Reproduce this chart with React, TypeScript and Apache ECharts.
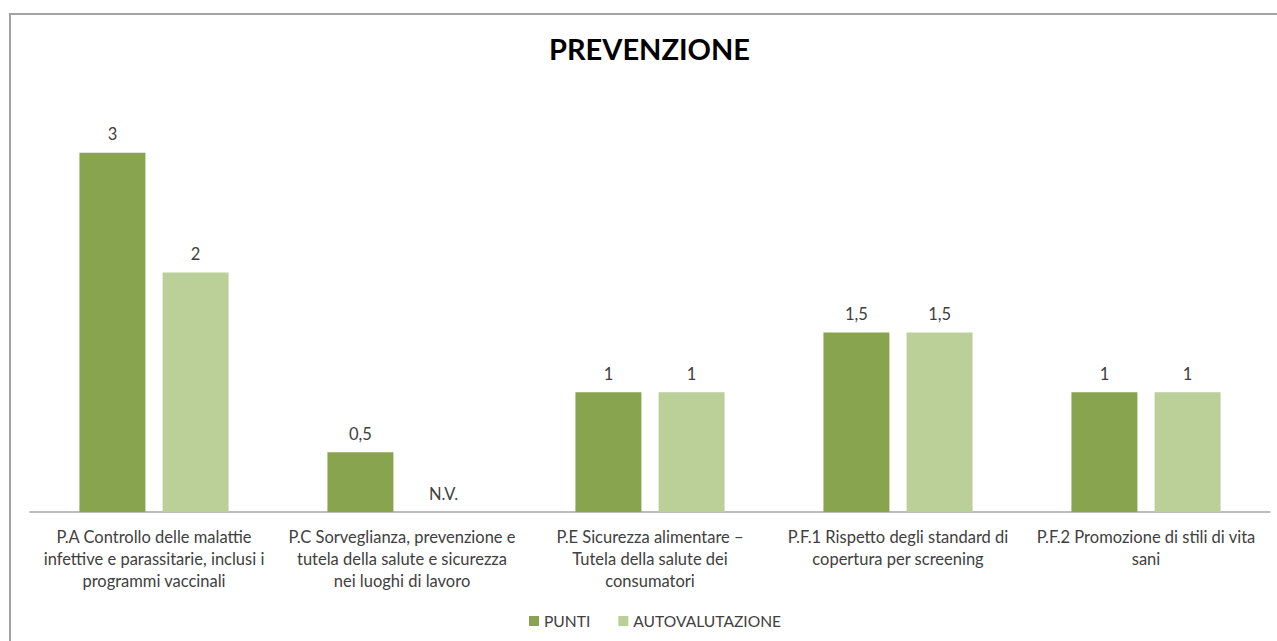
import React, { useEffect, useRef } from "react";
import * as echarts from "echarts";

const title = "PREVENZIONE";
const categories = [
  "P.A Controllo delle malattie\ninfettive e parassitarie, inclusi i\nprogrammi vaccinali",
  "P.C Sorveglianza, prevenzione e\ntutela della salute e sicurezza\nnei luoghi di lavoro",
  "P.E Sicurezza alimentare –\nTutela della salute dei\nconsumatori",
  "P.F.1 Rispetto degli standard di\ncopertura per screening",
  "P.F.2 Promozione di stili di vita\nsani",
];
const seriesNames = ["PUNTI", "AUTOVALUTAZIONE"];
const puntiValues: number[] = [3, 0.5, 1, 1.5, 1];
const autoValues: (number | null)[] = [2, null, 1, 1.5, 1];
const missingLabel = "N.V.";

const FONT = "Lato, 'Liberation Sans', sans-serif";
const TEXT = "#404040";

export default function App() {
  const ref = useRef<HTMLDivElement>(null);
  useEffect(() => {
    document.body.style.margin = "0";
    if (!ref.current) return;
    const chart = echarts.init(ref.current, null, { renderer: "svg" });
    const fmt = (p: any) => String(p.value).replace(".", ",");
    const labelCfg = {
      show: true,
      position: "top",
      distance: 10,
      color: TEXT,
      fontSize: 16.5,
      fontFamily: FONT,
      formatter: fmt,
    };
    chart.setOption({
      animation: false,
      backgroundColor: "#ffffff",
      textStyle: { fontFamily: FONT },
      title: {
        text: title,
        left: 544,
        top: 29,
        textStyle: { fontFamily: FONT, fontWeight: "bold", fontSize: 29, color: "#000000" },
      },
      graphic: [
        {
          type: "rect",
          shape: { x: 10, y: 14, width: 1400, height: 800 },
          style: { fill: "none", stroke: "#a3a3a3", lineWidth: 2 },
          silent: true,
        },
      ],
      legend: {
        left: 524,
        top: 608,
        itemWidth: 10,
        itemHeight: 10,
        itemGap: 28,
        icon: "rect",
        textStyle: { color: TEXT, fontSize: 15.6, fontFamily: FONT },
        data: seriesNames,
      },
      grid: { left: 30, top: 33, width: 1240, height: 479 },
      xAxis: {
        type: "category",
        data: categories,
        axisLine: { show: true, lineStyle: { color: "#a6a6a6", width: 1.5 } },
        axisTick: { show: false },
        axisLabel: {
          interval: 0,
          margin: 14,
          color: TEXT,
          fontSize: 16.5,
          lineHeight: 22,
          fontFamily: FONT,
        },
      },
      yAxis: {
        type: "value",
        min: 0,
        max: 4,
        show: false,
        splitLine: { show: false },
      },
      series: [
        {
          name: seriesNames[0],
          type: "bar",
          data: puntiValues,
          barWidth: 66,
          barGap: "26%",
          itemStyle: { color: "#88A44E" },
          label: labelCfg,
        },
        {
          name: seriesNames[1],
          type: "bar",
          data: autoValues.map((v) =>
            v === null ? { value: 0, label: { formatter: missingLabel } } : v
          ),
          barWidth: 66,
          itemStyle: { color: "#BAD098" },
          label: labelCfg,
        },
      ],
    });
    return () => chart.dispose();
  }, []);
  return <div ref={ref} style={{ width: 1277, height: 641 }} />;
}
